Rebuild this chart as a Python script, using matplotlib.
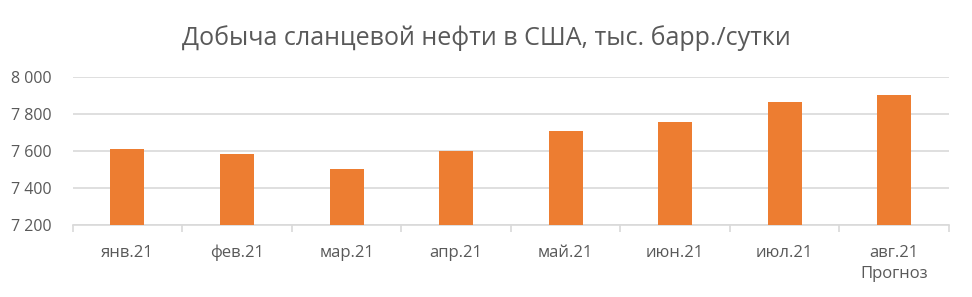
import matplotlib
matplotlib.use("Agg")
import matplotlib.pyplot as plt
import matplotlib.transforms as mtransforms
import numpy as np

categories = ["янв.21", "фев.21", "мар.21", "апр.21", "май.21", "июн.21", "июл.21", "авг.21"]
notes = ["", "", "", "", "", "", "", "Прогноз"]
values = [7608, 7582, 7500, 7600, 7707, 7758, 7862, 7900]
yticks = [7200, 7400, 7600, 7800, 8000]
ytick_labels = ["7 200", "7 400", "7 600", "7 800", "8 000"]
title = "Добыча сланцевой нефти в США, тыс. барр./сутки"

plt.rcParams['font.family'] = ['Open Sans', 'DejaVu Sans']
text_color = "#595959"
bar_color = "#ED7D31"
grid_color = "#D9D9D9"

fig = plt.figure(figsize=(9.72, 2.97), dpi=100)
ax = fig.add_axes([72.7/972, 1 - 225/297, (949-72.7)/972, (225-76.7)/297])

x = np.arange(len(categories))
ax.bar(x, values, width=0.31, color=bar_color, zorder=3)
ax.set_xlim(-0.5, len(categories) - 0.5)
ax.set_ylim(7200, 8000)
ax.set_yticks(yticks)
ax.set_yticklabels(ytick_labels, fontsize=11.5, color=text_color)
ax.yaxis.grid(True, color=grid_color, linewidth=1.2, zorder=0)
ax.tick_params(axis='y', length=0, pad=15)

ax.set_xticks(x)
ax.set_xticklabels(categories, fontsize=12, color=text_color, va='baseline')
ax.tick_params(axis='x', length=0, pad=23)
# category boundary ticks
ax.set_xticks(np.arange(-0.5, len(categories)), minor=True)
ax.tick_params(axis='x', which='minor', length=5, color=grid_color, width=1.2)

trans = mtransforms.blended_transform_factory(ax.transData, ax.transAxes)
for xi, note in zip(x, notes):
    if note:
        ax.annotate(note, xy=(xi, 0), xycoords=trans, xytext=(0, -38),
                    textcoords='offset points', ha='center', va='baseline',
                    fontsize=12, color=text_color, annotation_clip=False)

for s in ["top", "right", "left"]:
    ax.spines[s].set_visible(False)
ax.spines["bottom"].set_color(grid_color)
ax.spines["bottom"].set_linewidth(1.2)

fig.text(486/972, 1 - 38/297, title, ha='center', va='center', fontsize=18, color=text_color)

fig.savefig("out.png", dpi=100)
